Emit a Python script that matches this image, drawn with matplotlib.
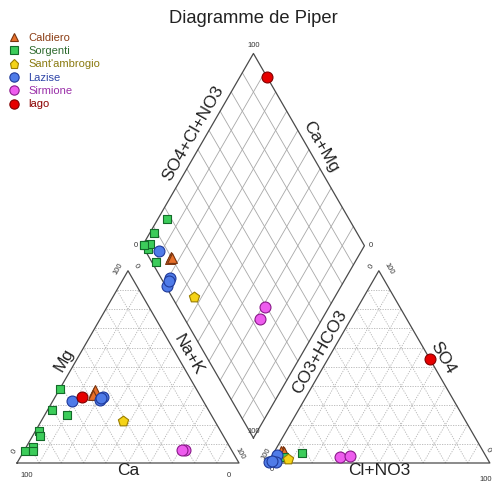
import numpy as np
import matplotlib.pyplot as plt
from matplotlib.lines import Line2D

plt.rcParams['font.family'] = ['Liberation Sans', 'DejaVu Sans']

H = np.sqrt(3) / 2
GAP = 0.13

# one entry per sample: group, cations (%) and anions (%)
sample_group = (["Caldiero"] * 3 + ["Sorgenti"] * 8 + ["Sant'ambrogio"]
                + ["Lazise"] * 4 + ["Sirmione"] * 2 + ["lago"])
ca = [47, 46, 48,
      61.3, 70.7, 64.8, 81.9, 82.5, 88.5, 93.2, 89.7,
      41.4,
      59, 46, 44, 45,
      21, 22,
      53.6]
mg = [37, 38, 35.5,
      38.3, 27.4, 25, 16.6, 14, 8.5, 6.2, 6.2,
      22,
      32.5, 33, 34.5, 34,
      7, 7,
      34.3]
nak = [16, 16, 16.5,
       0.4, 1.9, 10.2, 1.5, 3.5, 3.0, 0.6, 4.1,
       36.6,
       8.5, 21, 21.5, 21,
       72, 71,
       12.1]
hco3 = [90, 91, 90,
        99, 91.3, 98.4, 98, 98.3, 96.3, 99, 82.2,
        89.8,
        94, 96, 99.5, 97.5,
        66, 61,
        0]
so4 = [6, 6, 5.5,
       0.5, 3, 0.8, 1, 0.9, 1.5, 0.5, 5.2,
       2.1,
       4, 0.5, 0.3, 1,
       3, 3.6,
       54]
cl = [4, 3, 4.5,
      0.5, 5.7, 0.8, 1, 0.8, 2.2, 0.5, 12.6,
      8.1,
      2, 3.5, 0.2, 1.5,
      31, 35.4,
      46]

groups = ["Caldiero", "Sorgenti", "Sant'ambrogio", "Lazise", "Sirmione", "lago"]
markers = ['^', 's', 'p', 'o', 'o', 'o']
face_colors = ['#e8702a', '#3ccc5a', '#f5d316', '#4f7be8', '#ee5cee', '#e60000']
edge_colors = ['#7a3510', '#146b2a', '#9a7d00', '#1f3a9a', '#8a1a8a', '#800000']
text_colors = ['#8b3d14', '#2f6b2f', '#8a7a10', '#2f45a8', '#9a2fa8', '#8b0000']
sizes = [50, 38, 60, 62, 62, 62]

ca, mg, nak = np.array(ca), np.array(mg), np.array(nak)
hco3, so4, cl = np.array(hco3), np.array(so4), np.array(cl)
sample_group = np.array(sample_group)

fig = plt.figure(figsize=(4.92, 4.82), dpi=100)
ax = fig.add_axes([0, 0, 1, 1])
ax.set_xlim(-17 / 222, 475 / 222)
ax.set_ylim(-19 / 222, 463 / 222)
ax.set_aspect('equal')
ax.axis('off')

outline = dict(color='#4a4a4a', lw=0.9, zorder=3)
tgrid = dict(color='#b4b4b4', lw=0.6, ls=(0, (1.5, 1.5)), zorder=1)
dgrid = dict(color='#a8a8a8', lw=0.6, zorder=1)

x0r = 1 + GAP
bx, by = 1 + GAP / 2, GAP * H          # bottom vertex of the diamond
u1 = np.array([-0.5, H])
u2 = np.array([0.5, H])
B = np.array([bx, by])

# triangles
for x0 in (0, x0r):
    ax.plot([x0, x0 + 1, x0 + 0.5, x0], [0, 0, H, 0], **outline)
    for i in range(1, 10):
        t = i / 10
        ax.plot([x0 + 0.5 * t, x0 + 1 - 0.5 * t], [H * t, H * t], **tgrid)
        ax.plot([x0 + t, x0 + t + 0.5 * (1 - t)], [0, H * (1 - t)], **tgrid)
        ax.plot([x0 + t, x0 + 0.5 * t], [0, H * t], **tgrid)

# diamond
corners = [B, B + u1, B + u1 + u2, B + u2, B]
ax.plot([c[0] for c in corners], [c[1] for c in corners], **outline)
for i in range(1, 10):
    t = i / 10
    p, q = B + t * u1, B + t * u1 + u2
    ax.plot([p[0], q[0]], [p[1], q[1]], **dgrid)
    p, q = B + t * u2, B + t * u2 + u1
    ax.plot([p[0], q[0]], [p[1], q[1]], **dgrid)

# sample positions
cx = nak / 100 + 0.5 * mg / 100
cy = H * mg / 100
ax_ = x0r + cl / 100 + 0.5 * so4 / 100
ay = H * so4 / 100
c_frac = (ca + mg) / 100
a_frac = (so4 + cl) / 100
dx = bx + 0.5 * (a_frac - c_frac)
dy = by + H * (a_frac + c_frac)

handles = []
for g, m, fc, ec, s in zip(groups, markers, face_colors, edge_colors, sizes):
    sel = sample_group == g
    for xs, ys in ((cx, cy), (ax_, ay), (dx, dy)):
        ax.scatter(xs[sel], ys[sel], marker=m, s=s, facecolor=fc,
                   edgecolor=ec, linewidth=0.8, zorder=5)
    handles.append(Line2D([], [], ls='none', marker=m, markersize=np.sqrt(s) * 0.85,
                          markerfacecolor=fc, markeredgecolor=ec, markeredgewidth=0.8))


def side_label(p0, p1, frac, off, text, rot, size=12.5):
    # text centred along the edge p0-p1, pushed outward by off
    p0, p1 = np.asarray(p0, float), np.asarray(p1, float)
    d = p1 - p0
    n = np.array([d[1], -d[0]]) / np.hypot(*d)
    pos = p0 + frac * d + off * n
    ax.text(pos[0], pos[1], text, rotation=rot, ha='center', va='center',
            fontsize=size, color='#222222', rotation_mode='anchor')


# axis names
side_label((0.5, H), (0, 0), 0.49, 0.05, 'Mg', 60)
side_label((1, 0), (0.5, H), 0.535, 0.047, 'Na+K', -60)
side_label((x0r + 0.5, H), (x0r, 0), 0.45, 0.047, 'CO3+HCO3', 60)
side_label((x0r + 1, 0), (x0r + 0.5, H), 0.515, 0.055, 'SO4', -60)
side_label(B + u1 + u2, B + u1, 0.447, 0.058, 'SO4+Cl+NO3', 60)
side_label(B + u2, B + u1 + u2, 0.485, 0.052, 'Ca+Mg', -60)
ax.text(0.5, -0.032, 'Ca', ha='center', va='center', fontsize=12.5, color='#222222')
ax.text(x0r + 0.5, -0.032, 'Cl+NO3', ha='center', va='center', fontsize=12.5,
        color='#222222')

# scale values at the corners
tk = dict(fontsize=5.5, color='#333333', ha='center', va='center')
ax.text(0.045, -0.055, '100', **tk)
ax.text(0.955, -0.055, '0', **tk)
ax.text(-0.01, 0.05, '0', rotation=60, **tk)
ax.text(0.455, H + 0.01, '100', rotation=60, **tk)
ax.text(0.535, H + 0.02, '0', rotation=-60, **tk)
ax.text(1.005, 0.04, '100', rotation=-60, **tk)
ax.text(x0r - 0.005, 0.04, '100', rotation=60, **tk)
ax.text(x0r + 0.02, -0.03, '0', **tk)
ax.text(x0r + 0.465, H + 0.02, '0', rotation=60, **tk)
ax.text(x0r + 0.545, H + 0.01, '100', rotation=-60, **tk)
ax.text(x0r + 0.99, 0.06, '0', rotation=-60, **tk)
ax.text(x0r + 0.98, -0.075, '100', **tk)
top = B + u1 + u2
ax.text(top[0], top[1] + 0.035, '100', **tk)
ax.text(B[0], B[1] + 0.03, '100', **tk)
ax.text((B + u1)[0] - 0.03, (B + u1)[1], '0', **tk)
ax.text((B + u2)[0] + 0.03, (B + u2)[1], '0', **tk)

fig.text(0.515, 0.962, 'Diagramme de Piper', ha='center', va='center',
         fontsize=13.2, color='#222222')

leg = fig.legend(handles, groups, loc='upper left', bbox_to_anchor=(0.014, 0.932),
                 frameon=False, fontsize=8, handlelength=1.3, handletextpad=0.6,
                 labelspacing=0.3, borderpad=0, borderaxespad=0, labelcolor=text_colors)

fig.savefig('out.png', dpi=100)
